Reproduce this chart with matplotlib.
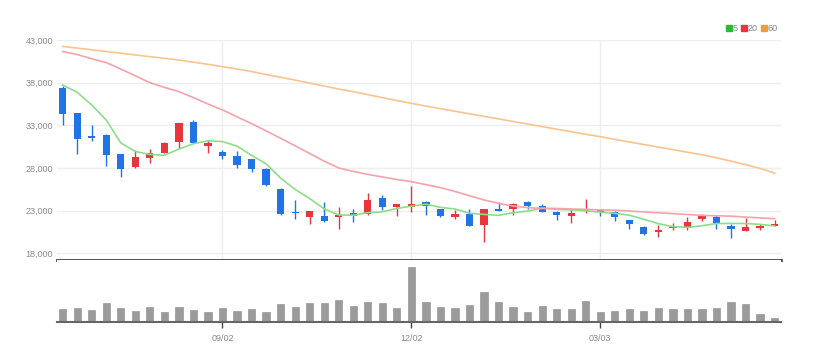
import matplotlib.pyplot as plt
import numpy as np
from matplotlib.lines import Line2D

# weekly candles, prices
opens = [37350, 34400, 31750, 31900, 29600, 28100, 29200, 29800, 31000, 33400,
         30600, 29850, 29350, 29000, 27900, 25500, 22900, 22200, 22400, 22250,
         22750, 22550, 24500, 23450, 23450, 24050, 23200, 22200, 22550, 21300,
         23250, 23250, 24050, 23600, 22900, 22400, 22950, 23100, 22900, 21900,
         21100, 20450, 20950, 21000, 22000, 22200, 21250, 20650, 20950, 21250]
highs = [37600, 34500, 33000, 31950, 29650, 30100, 30200, 31100, 33300, 33600,
         31300, 30100, 30000, 29100, 27950, 25600, 24250, 23000, 24050, 23400,
         23150, 25050, 24850, 23800, 25900, 24100, 23250, 23100, 23250, 23200,
         24050, 23850, 24150, 23800, 22950, 23200, 24350, 23200, 22950, 21950,
         21200, 21300, 21500, 22300, 22550, 22500, 21400, 22100, 21400, 21900]
lows = [33050, 29650, 31200, 28250, 27000, 28000, 28600, 29750, 30400, 30900,
        29700, 29000, 28050, 27550, 25900, 22500, 22000, 21450, 21650, 20800,
        21650, 22500, 23100, 22350, 22900, 22500, 22300, 22000, 21150, 19350,
        22950, 22500, 23250, 22800, 21850, 21600, 22700, 22400, 21800, 20850,
        20150, 19950, 20750, 20750, 21800, 20850, 19850, 20600, 20750, 21200]
closes = [34350, 31450, 31500, 29550, 27850, 29250, 29800, 30950, 33250, 30950,
          30950, 29350, 28300, 27850, 26000, 22550, 22700, 23000, 21750, 22450,
          22400, 24200, 23450, 23750, 23800, 23550, 22350, 22550, 21200, 23200,
          23000, 23800, 23550, 22900, 22500, 22700, 23250, 22800, 22200, 21400,
          20250, 20750, 21100, 21700, 22350, 21550, 20800, 21050, 21200, 21450]
volumes = [254000, 280000, 234000, 366000, 266000, 220000, 300000, 200000, 286000, 234000,
           200000, 266000, 220000, 254000, 200000, 354000, 300000, 366000, 366000, 426000,
           320000, 400000, 380000, 280000, 1086000, 394000, 300000, 280000, 326000, 594000,
           394000, 300000, 186000, 320000, 254000, 254000, 420000, 200000, 220000, 254000,
           220000, 280000, 260000, 260000, 260000, 280000, 394000, 354000, 160000, 66000]

ma5 = [37725, 36870, 35380, 33620, 30945, 29929, 29593, 29484, 30218, 30843,
       31187, 31093, 30562, 29484, 28491, 26812, 25484, 24421, 23203, 22492,
       22461, 22766, 22859, 23258, 23531, 23757, 23382, 23195, 22687, 22562,
       22453, 22750, 22953, 23289, 23148, 23086, 22976, 22828, 22687, 22468,
       21984, 21476, 21133, 21039, 21234, 21492, 21500, 21492, 21390, 21211]
ma20 = [41650, 41300, 40800, 40350, 39600, 38800, 38000, 37450, 36950, 36250,
        35500, 34800, 34000, 33200, 32350, 31480, 30600, 29700, 28800, 28000,
        27600, 27250, 26950, 26650, 26400, 26050, 25700, 25250, 24750, 24250,
        23850, 23550, 23350, 23270, 23250, 23200, 23150, 23080, 23050, 22950,
        22850, 22750, 22650, 22550, 22450, 22400, 22350, 22250, 22150, 22050]
ma60 = [42250, 42050, 41850, 41650, 41450, 41250, 41050, 40850, 40650, 40400,
        40150, 39880, 39600, 39300, 38950, 38630, 38300, 37950, 37600, 37250,
        36950, 36600, 36250, 35900, 35580, 35250, 34950, 34650, 34350, 34050,
        33750, 33450, 33150, 32850, 32550, 32250, 31950, 31670, 31350, 31050,
        30750, 30450, 30150, 29850, 29550, 29200, 28800, 28400, 27950, 27400]

tick_pos = [11, 24, 37]
tick_labels = ['09/02', '12/02', '03/03']
price_ticks = [18000, 23000, 28000, 33000, 38000, 43000]

UP = '#e8363c'
DOWN = '#1f74e6'
label_font = ['Liberation Sans Narrow', 'Liberation Sans', 'DejaVu Sans']

fig = plt.figure(figsize=(8.15, 3.61), dpi=100)
ax = fig.add_axes([57 / 815, 1 - 260 / 361, 724 / 815, 220 / 361])
axv = fig.add_axes([57 / 815, 1 - 321.7 / 361, 724 / 815, 61.7 / 361], sharex=ax)

x = np.arange(len(closes))
o = np.array(opens)
c = np.array(closes)
colors = np.where(c >= o, UP, DOWN)

# candles
ax.vlines(x, lows, highs, colors=colors, linewidth=1, zorder=3)
ax.bar(x, np.abs(c - o), bottom=np.minimum(o, c), width=0.5,
       color=colors, linewidth=0, zorder=3)

# moving averages 5 / 20 / 60
ax.plot(x, ma5, color='#8fdc8a', lw=1.2, zorder=4)
ax.plot(x, ma20, color='#f5a3ab', lw=1.2, zorder=4)
ax.plot(x, ma60, color='#f9c48f', lw=1.2, zorder=4)

ax.set_xlim(-0.39, 49.44)
ax.set_ylim(17216, 43000)
ax.set_yticks(price_ticks)
ax.set_yticklabels([f'{v:,}' for v in price_ticks], fontsize=6.5, color='#8a8a8a',
                   family=label_font)
ax.tick_params(axis='y', length=0, pad=3)
ax.tick_params(axis='x', length=0, labelbottom=False)
ax.set_xticks(tick_pos)
ax.grid(True, color='#eeeeee', lw=1)
ax.set_axisbelow(True)
for s in ['top', 'left', 'right']:
    ax.spines[s].set_visible(False)
ax.spines['bottom'].set_color('#444444')
ax.spines['bottom'].set_linewidth(2)

# volume
axv.bar(x, volumes, width=0.5, color='#9b9b9b', edgecolor='#8a8a8a', linewidth=0.4)
axv.set_ylim(0, 1234000)
axv.set_yticks([])
for s in ['top', 'left', 'right']:
    axv.spines[s].set_visible(False)
axv.spines['bottom'].set_color('#666666')
axv.spines['bottom'].set_linewidth(1.5)
axv.set_xticks(tick_pos)
axv.set_xticklabels(tick_labels, fontsize=6.5, color='#8a8a8a', family=label_font)
axv.tick_params(axis='x', length=4, width=1, color='#444444', pad=5)

# legend
handles = [Line2D([], [], marker='s', ls='', color=col, markersize=4)
           for col in ['#2eb83a', '#e8363c', '#f39a3a']]
fig.legend(handles, ['5', '20', '60'], loc='upper right',
           bbox_to_anchor=(786 / 815, 1 - 16 / 361), ncol=3, frameon=False,
           handlelength=0.6, handletextpad=0.1, columnspacing=0.4,
           prop={'size': 6.5, 'family': label_font}, labelcolor='#888888')

fig.savefig('out.png', dpi=100)
